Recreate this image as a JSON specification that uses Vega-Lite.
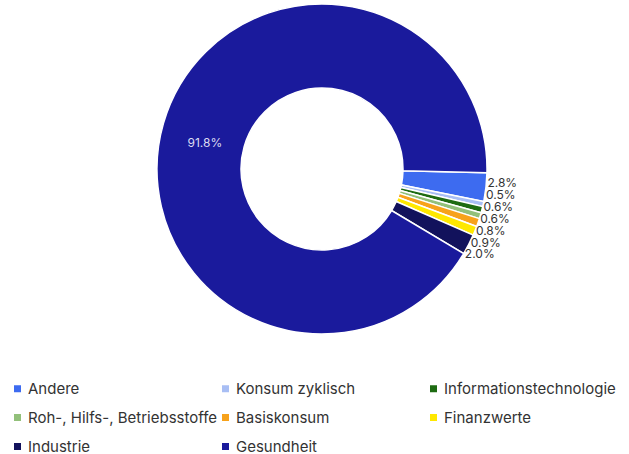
{
  "$schema": "https://vega.github.io/schema/vega-lite/v6.json",
  "width": 644,
  "height": 338,
  "padding": 0,
  "background": "white",
  "config": {"view": {"stroke": null}, "font": "Inter"},
  "data": {
    "values": [
      {"name": "Andere", "v": 0.028},
      {"name": "Konsum zyklisch", "v": 0.005},
      {"name": "Informationstechnologie", "v": 0.006},
      {"name": "Roh-, Hilfs-, Betriebsstoffe", "v": 0.006},
      {"name": "Basiskonsum", "v": 0.008},
      {"name": "Finanzwerte", "v": 0.009},
      {"name": "Industrie", "v": 0.02},
      {"name": "Gesundheit", "v": 0.918}
    ]
  },
  "transform": [{"window": [{"op": "row_number", "as": "rn"}]}],
  "layer": [
    {
      "mark": {"type": "arc", "outerRadius": 165, "innerRadius": 81, "stroke": "white", "strokeWidth": 1.5},
      "encoding": {
        "theta": {"field": "v", "type": "quantitative", "stack": true, "scale": {"range": [1.5935, 7.8767]}},
        "order": {"field": "rn", "type": "quantitative"},
        "color": {
          "field": "name",
          "type": "nominal",
          "scale": {
            "domain": ["Andere", "Konsum zyklisch", "Informationstechnologie", "Roh-, Hilfs-, Betriebsstoffe", "Basiskonsum", "Finanzwerte", "Industrie", "Gesundheit"],
            "range": ["#3D6BF0", "#A8BEF4", "#1E6B12", "#92C07A", "#F7A21B", "#FFE800", "#12125C", "#1A1A9C"]
          },
          "legend": {
            "title": null,
            "orient": "none",
            "legendX": 10,
            "legendY": 381,
            "direction": "horizontal",
            "columns": 3,
            "gridAlign": "all",
            "columnPadding": 0,
            "rowPadding": 13,
            "symbolType": "square",
            "symbolSize": 49,
            "symbolStrokeWidth": 0,
            "labelFontSize": 15,
            "labelColor": "#333333",
            "labelLimit": 400,
            "labelOffset": 3
          }
        }
      }
    },
    {
      "mark": {"type": "text", "radius": 120, "fontSize": 12, "fill": "#DCDCF2"},
      "encoding": {
        "theta": {"field": "v", "type": "quantitative", "stack": true, "scale": {"range": [1.532, 7.8152]}},
        "order": {"field": "rn", "type": "quantitative"},
        "text": {"field": "v", "type": "quantitative", "format": ".1%"},
        "opacity": {"condition": {"test": "datum.name === 'Gesundheit'", "value": 1}, "value": 0}
      }
    },
    {
      "transform": [{"filter": "datum.name !== 'Gesundheit'"}],
      "mark": {"type": "text", "radius": 166, "fontSize": 12, "fill": "#333333", "align": "left", "baseline": "middle"},
      "encoding": {
        "theta": {"field": "rn", "type": "quantitative", "stack": null, "scale": {"domain": [0, 83.7], "range": [1.5795, 7.8627], "zero": true, "nice": false}},
        "text": {"field": "v", "type": "quantitative", "format": ".1%"}
      }
    }
  ],
  "resolve": {"scale": {"theta": "independent"}}
}
